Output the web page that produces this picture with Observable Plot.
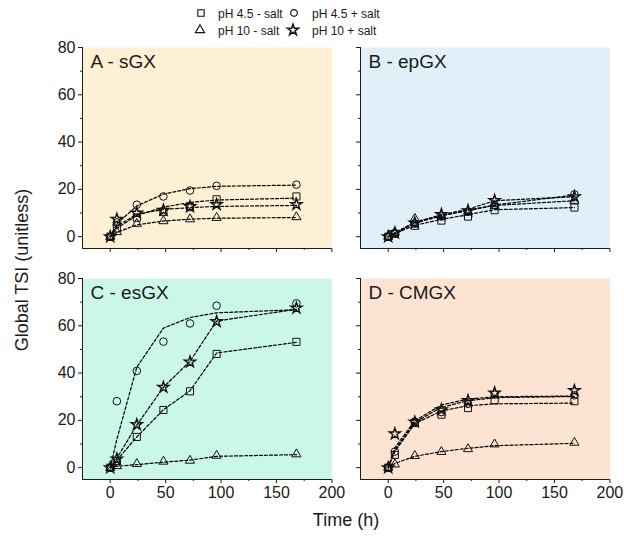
<!DOCTYPE html>
<html>
<head>
<meta charset="utf-8">
<script src="https://cdn.jsdelivr.net/npm/d3@7"></script>
<script src="https://cdn.jsdelivr.net/npm/@observablehq/plot@0.6"></script>
<style>
  body { margin: 0; background: #fff; }
  #fig { position: relative; width: 624px; height: 536px; overflow: hidden;
         font-family: "Liberation Sans", Arial, sans-serif; color: #1a1a1a; }
  .abs { position: absolute; }
  #ylab { left: 22px; top: 270px; transform: translate(-50%, -50%) rotate(-90deg);
          font-size: 18px; white-space: nowrap; }
  #xlab { left: 346px; top: 520px; transform: translate(-50%, -50%);
          font-size: 18px; white-space: nowrap; }
</style>
</head>
<body>
<div id="fig">
  <div id="ylab" class="abs">Global TSI (unitless)</div>
  <div id="xlab" class="abs">Time (h)</div>
</div>
<script>
// Sampling times (h)
const hours = [0, 6, 24, 48, 72, 96, 168];

// Series names (legend order)
const seriesNames = ["pH 4.5 - salt", "pH 4.5 + salt", "pH 10 - salt", "pH 10 + salt"];
const panelTitles = ["A - sGX", "B - epGX", "C - esGX", "D - CMGX"];

// Axis ticks
const xMajor = [0, 50, 100, 150, 200];
const xMinor = [25, 75, 125, 175];
const yMajor = [0, 20, 40, 60, 80];
const yMinor = [10, 30, 50, 70];
const xDomain = [-25, 200];
const yDomain = [-5, 80];

// A - sGX: measured TSI
const A_sq = [0, 3.5, 8.0, 10.5, 12.5, 15.8, 17.0];
const A_ci = [0, 6.0, 13.5, 17.0, 19.5, 21.5, 22.0];
const A_tr = [0, 2.0, 5.5, 6.6, 7.4, 8.0, 8.3];
const A_st = [0, 7.4, 10.0, 11.2, 12.7, 13.6, 13.6];
// A - sGX: fitted TSI
const A_sq_fit = [0, 3.5, 9.0, 12.5, 14.5, 15.5, 16.3];
const A_ci_fit = [0, 5.5, 13.0, 18.0, 20.3, 21.3, 21.8];
const A_tr_fit = [0, 1.8, 5.0, 6.6, 7.4, 7.8, 8.1];
const A_st_fit = [0, 4.5, 9.5, 11.5, 12.3, 12.8, 13.2];

// B - epGX
const B_sq = [0, 1.2, 4.6, 6.8, 8.5, 11.2, 12.3];
const B_ci = [0, 1.5, 5.5, 8.5, 10.5, 13.5, 17.9];
const B_tr = [0, 1.8, 7.6, 8.8, 10.5, 13.0, 15.2];
const B_st = [0, 1.6, 5.8, 9.4, 11.0, 15.3, 16.9];
const B_sq_fit = [0, 1.3, 4.8, 7.3, 9.3, 11.4, 12.3];
const B_ci_fit = [0, 1.5, 5.7, 8.8, 11.2, 13.4, 17.6];
const B_tr_fit = [0, 1.6, 6.2, 9.0, 11.0, 13.2, 15.2];
const B_st_fit = [0, 1.5, 5.9, 9.3, 11.6, 15.2, 16.9];

// C - esGX
const C_sq = [0, 2.8, 13.0, 24.4, 32.3, 48.1, 53.2];
const C_ci = [0, 28.1, 40.9, 53.3, 61.0, 68.5, 69.5];
const C_tr = [0, 0.7, 1.6, 2.6, 3.0, 5.1, 5.7];
const C_st = [0, 3.7, 18.2, 34.0, 44.7, 61.8, 67.5];
const C_sq_fit = [0, 3.2, 13.0, 24.5, 32.5, 48.5, 53.0];
const C_ci_fit = [0, 12.0, 42.5, 59.0, 63.5, 65.5, 66.8];
const C_tr_fit = [0, 0.6, 1.3, 2.3, 3.2, 4.8, 5.5];
const C_st_fit = [0, 4.0, 18.0, 34.0, 45.0, 62.0, 67.0];

// D - CMGX
const D_sq = [0, 5.4, 18.9, 22.4, 25.2, 28.5, 28.1];
const D_ci = [0, 6.8, 19.5, 23.5, 27.0, 30.9, 30.6];
const D_tr = [0, 1.4, 5.0, 6.7, 7.9, 9.9, 10.6];
const D_st = [0, 14.3, 19.3, 24.5, 28.4, 31.6, 32.6];
const D_sq_fit = [0, 6.8, 18.6, 24.0, 26.2, 27.0, 27.3];
const D_ci_fit = [0, 7.5, 19.2, 25.5, 28.3, 29.6, 30.1];
const D_tr_fit = [0, 1.8, 4.8, 6.8, 8.2, 9.3, 10.3];
const D_st_fit = [0, 8.5, 19.8, 26.5, 29.0, 30.0, 30.3];

// Marker style per series
const symbols = ["square", "circle", "triangle", "star"];
const symbolR = [4, 3.8, 3.4, 3.5];
const symbolWidth = [1, 1, 1, 1.4];

const ink = "#1a1a1a";
const fig = document.getElementById("fig");

// Frame geometry of each panel (px)
const innerW = 249.4, innerH = 201;
const mL = 40, mR = 22, mT = 12, mB = 30;

function panel(title, bg, pts, fits, left, top, labelX, labelY) {
  const marks = [
    Plot.frame({fill: bg, stroke: "none"}),
    Plot.axisY({ticks: yMajor, tickSize: 4, tickPadding: 3, label: null, color: ink,
                fontSize: 16, tickFormat: labelY ? d => String(d) : () => ""}),
    Plot.axisY({ticks: yMinor, tickSize: 2, label: null, color: ink, tickFormat: () => ""}),
    Plot.axisX({ticks: xMajor, tickSize: 4, tickPadding: 3, label: null, color: ink,
                fontSize: 16, tickFormat: labelX ? d => String(d) : () => ""}),
    Plot.axisX({ticks: xMinor, tickSize: 2, label: null, color: ink, tickFormat: () => ""}),
    Plot.ruleX([xDomain[0]], {stroke: ink, strokeWidth: 1}),
    Plot.ruleY([yDomain[0]], {stroke: ink, strokeWidth: 1})
  ];
  fits.forEach(f => {
    marks.push(Plot.line(hours.map((h, i) => ({h, v: f[i]})), {
      x: "h", y: "v", stroke: "#000", strokeWidth: 1.2, strokeDasharray: "3,2"
    }));
  });
  pts.forEach((p, k) => {
    marks.push(Plot.dot(hours.map((h, i) => ({h, v: p[i]})), {
      x: "h", y: "v", symbol: () => symbols[k], r: symbolR[k],
      fill: "none", stroke: "#111", strokeWidth: symbolWidth[k]
    }));
  });
  marks.push(Plot.text([title], {
    text: d => d, frameAnchor: "top-left", textAnchor: "start", lineAnchor: "middle",
    dx: 8, dy: 14, fontSize: 19, fill: ink
  }));
  const svg = Plot.plot({
    width: mL + innerW + mR, height: mT + innerH + mB,
    marginLeft: mL, marginRight: mR, marginTop: mT, marginBottom: mB,
    x: {domain: xDomain, label: null},
    y: {domain: yDomain, label: null},
    symbol: {type: "identity"},
    style: {fontFamily: '"Liberation Sans", Arial, sans-serif', fontSize: "16px",
            background: "transparent", overflow: "visible", color: ink},
    marks
  });
  svg.classList.add("abs");
  svg.style.left = (left - mL) + "px";
  svg.style.top = (top - mT) + "px";
  fig.appendChild(svg);
}

panel(panelTitles[0], "#fdf0d5", [A_sq, A_ci, A_tr, A_st], [A_sq_fit, A_ci_fit, A_tr_fit, A_st_fit], 82.3, 46.7, false, true);
panel(panelTitles[1], "#e1eff9", [B_sq, B_ci, B_tr, B_st], [B_sq_fit, B_ci_fit, B_tr_fit, B_st_fit], 360, 46.7, false, false);
panel(panelTitles[2], "#cbf7e9", [C_sq, C_ci, C_tr, C_st], [C_sq_fit, C_ci_fit, C_tr_fit, C_st_fit], 82.3, 278, true, true);
panel(panelTitles[3], "#fde4d2", [D_sq, D_ci, D_tr, D_st], [D_sq_fit, D_ci_fit, D_tr_fit, D_st_fit], 360, 278, true, false);

// Legend: two rows of symbol + label
const legend = d3.create("svg").attr("class", "abs")
  .attr("width", 624).attr("height", 40)
  .style("left", "0px").style("top", "0px")
  .style("font-family", '"Liberation Sans", Arial, sans-serif');
const legendPos = [[201, 13], [294, 13], [200, 30], [293, 30]];
const d3Sym = {square: d3.symbolSquare, circle: d3.symbolCircle, triangle: d3.symbolTriangle, star: d3.symbolStar};
const legendR = [3.6, 3.4, 3.4, 3.5];
seriesNames.forEach((name, k) => {
  const [lx, ly] = legendPos[k];
  legend.append("path")
    .attr("transform", `translate(${lx},${ly})`)
    .attr("d", d3.symbol(d3Sym[symbols[k]], Math.PI * legendR[k] * legendR[k])())
    .attr("fill", "none").attr("stroke", "#111").attr("stroke-width", k === 3 ? 1.5 : 1.1);
  legend.append("text")
    .attr("x", k % 2 === 0 ? 218 : 312).attr("y", ly + 4.5)
    .attr("font-size", 12).attr("fill", ink)
    .text(name);
});
fig.appendChild(legend.node());
</script>
</body>
</html>
